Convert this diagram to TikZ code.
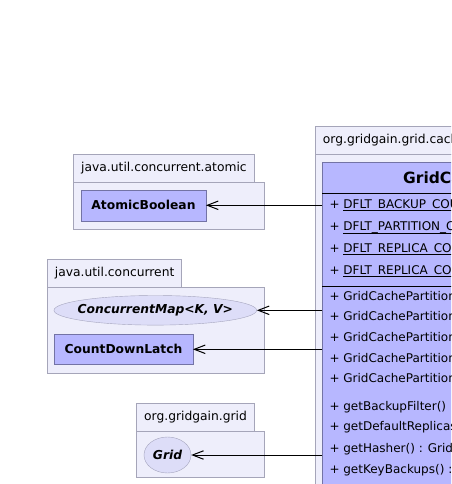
\documentclass[tikz,border=0pt]{standalone}
\usepackage{fontspec}
\setmainfont{DejaVu Sans}
\usetikzlibrary{shapes.geometric,arrows.meta}
\definecolor{pkgfill}{RGB}{238,238,251}
\definecolor{pkgline}{RGB}{165,165,185}
\definecolor{clsfill}{RGB}{183,183,255}
\definecolor{clsline}{RGB}{115,115,165}
\definecolor{ifcfill}{RGB}{221,221,248}
\definecolor{ifcline}{RGB}{165,165,190}
\newcommand{\stmbr}[1]{\setbox0\hbox{#1}\rlap{\copy0}\rule[-2.8pt]{\wd0}{0.7pt}}
\begin{document}
\begin{tikzpicture}[x=1pt, y=-1pt, every node/.style={font=\fontsize{12.3}{14}\selectfont},
		pkg/.style={draw=pkgline, fill=pkgfill, anchor=north west, inner sep=0pt},
		tab/.style={pkg, inner xsep=8pt, minimum height=28pt, align=left},
		cls/.style={draw=clsline, fill=clsfill, inner sep=0pt, font=\fontsize{12.3}{14}\selectfont\bfseries},
		ifc/.style={ellipse, draw=ifcline, fill=ifcfill, inner sep=0pt},
		ilab/.style={inner sep=0pt, font=\fontsize{12.3}{14}\selectfont\bfseries\itshape},
		mbr/.style={anchor=west, inner sep=0pt, font=\fontsize{12}{14}\selectfont},
		dep/.style={-{Straight Barb[length=11pt, width=8.5pt, line width=1pt]}, thin}]
			\useasboundingbox (0,0) rectangle (451,484);
			\clip (0,0) rectangle (451,484);

			% packages
			\node[tab, text width=165pt] (atomtab) at (73,154) {java.util.concurrent.atomic};
			\node[pkg, minimum width=191pt, minimum height=47pt] (atombody) at (73,182) {};
			\node[tab, text width=118pt] (conctab) at (46.7,259.3) {java.util.concurrent};
			\node[pkg, minimum width=217.3pt, minimum height=85.7pt] (concbody) at (46.7,287) {};
			\node[tab, text width=102pt] (gridtab) at (136,403.3) {org.gridgain.grid};
			\node[pkg, minimum width=128.3pt, minimum height=46.6pt] (gridbody) at (136,430.7) {};
			\node[tab, text width=300pt] (cachetab) at (314.7,126) {org.gridgain.grid.cache.affinity.partitioned};
			\node[pkg, minimum width=400pt, minimum height=400pt] (cachebody) at (314.7,154) {};

			% classes
			\node[cls, minimum width=124.4pt, minimum height=31pt] (ab) at (143.5,205.3) {AtomicBoolean};
			\node[ifc, minimum width=202.7pt, minimum height=29.6pt] (cm) at (155.3,310.3) {};
			\node[ilab] (cmlab) at (cm) {ConcurrentMap<K, V>};
			\node[cls, minimum width=138.4pt, minimum height=30.7pt] (cdl) at (123.5,349.3) {CountDownLatch};
			\node[ifc, minimum width=47pt, minimum height=36pt] (grid) at (167.5,455) {};
			\node[ilab] (gridlab) at (grid) {Grid};

			\node[cls, minimum width=400pt, minimum height=400pt, anchor=north west] (gc) at (322.3,162.3) {};
			\node[mbr, font=\fontsize{15.5}{18}\selectfont\bfseries] (gctitle) at (403,179.5) {GridCachePartitionedAffinity};
			\draw (322.3,193.3) -- (460,193.3);
			\node[mbr] (f1) at (329.3,205) {+ \stmbr{DFLT\_BACKUP\_COUNT}};
			\node[mbr] (f2) at (329.3,227.7) {+ \stmbr{DFLT\_PARTITION\_COUNT}};
			\node[mbr] (f3) at (329.3,249) {+ \stmbr{DFLT\_REPLICA\_COUNT}};
			\node[mbr] (f4) at (329.3,271) {+ \stmbr{DFLT\_REPLICA\_COUNT\_ATTR\_NAME}};
			\draw (322.3,285.7) -- (460,285.7);
			\node[mbr] (c1) at (329.3,296.7) {+ GridCachePartitionedAffinity()};
			\node[mbr] (c2) at (329.3,316.7) {+ GridCachePartitionedAffinity()};
			\node[mbr] (c3) at (329.3,337.7) {+ GridCachePartitionedAffinity()};
			\node[mbr] (c4) at (329.3,359.3) {+ GridCachePartitionedAffinity()};
			\node[mbr] (c5) at (329.3,379.3) {+ GridCachePartitionedAffinity()};
			\node[mbr] (m1) at (329.3,406.7) {+ getBackupFilter()};
			\node[mbr] (m2) at (329.3,427.3) {+ getDefaultReplicas()};
			\node[mbr] (m3) at (329.3,449.3) {+ getHasher() : GridClientConsistentHash};
			\node[mbr] (m4) at (329.3,470) {+ getKeyBackups() : int};

			% dependencies
			\coordinate (gc1) at (322.3,205.3);
			\coordinate (gc2) at (322.3,310.3);
			\coordinate (gc3) at (322.3,349.3);
			\coordinate (gc4) at (322.3,455);
			\draw[dep] (gc1) -- (ab);
			\draw[dep] (gc2) -- (cm);
			\draw[dep] (gc3) -- (cdl);
			\draw[dep] (gc4) -- (grid);
		\end{tikzpicture}
\end{document}
